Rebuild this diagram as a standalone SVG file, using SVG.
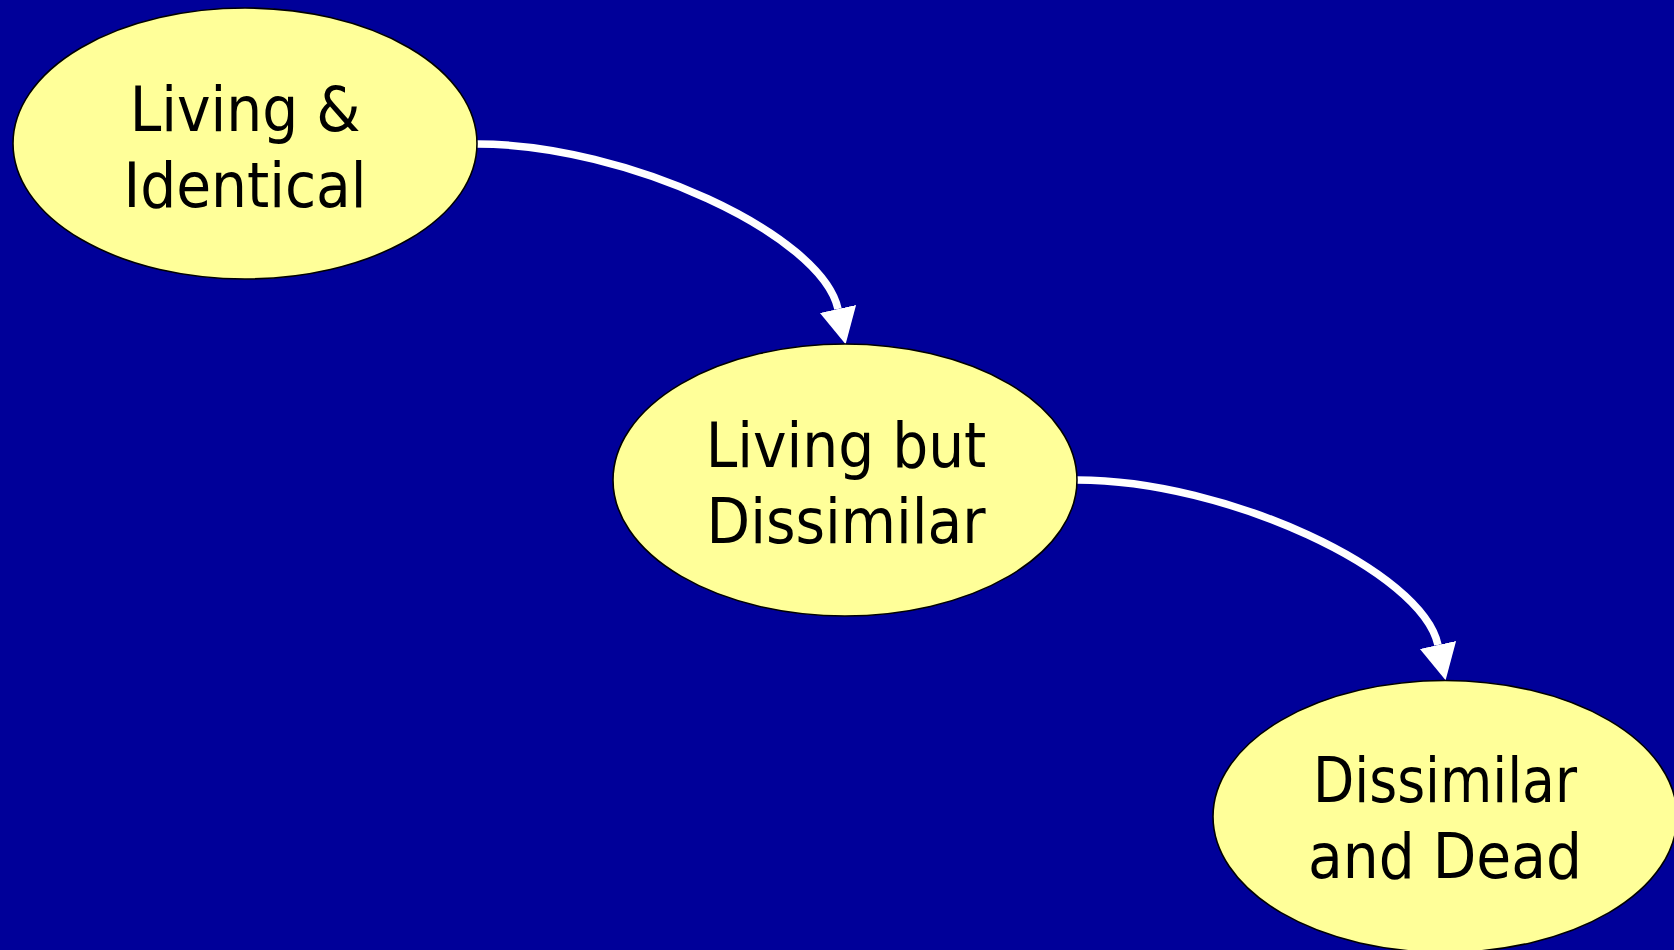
<svg xmlns="http://www.w3.org/2000/svg" width="1674" height="950" viewBox="0 0 1674 950">
  <style>
    .node ellipse { fill: #FFFF99; stroke: #000000; stroke-width: 1.6; }
    .node text { font-family: "DejaVu Sans Condensed", "DejaVu Sans", sans-serif; font-stretch: condensed; font-size: 63px; fill: #000000; text-anchor: middle; }
    .edge { fill: none; stroke: #FFFFFF; stroke-width: 7.5; marker-end: url(#arrow); }
  </style>
  <defs>
    <marker id="arrow" markerUnits="userSpaceOnUse" markerWidth="42" markerHeight="42" viewBox="0 -21 42 42" refX="0" refY="0" orient="auto">
      <polygon points="0,-18.5 36,0 0,18.5" fill="#FFFFFF"/>
    </marker>
  </defs>

  <rect x="0" y="0" width="1674" height="950" fill="#000099"/>

  <g id="connectors">
    <path class="edge" d="M477,144 C627,144 822,235 838,309"/>
    <path class="edge" d="M1077,480 C1227,480 1422,571 1438,645"/>
  </g>

  <g id="node-living-identical" class="node">
    <ellipse cx="245" cy="143.5" rx="232" ry="135.5"/>
    <text x="245" y="131">Living &amp;</text>
    <text x="245" y="207">Identical</text>
  </g>

  <g id="node-living-dissimilar" class="node">
    <ellipse cx="845" cy="480" rx="232" ry="136"/>
    <text x="846" y="467">Living but</text>
    <text x="846" y="543">Dissimilar</text>
  </g>

  <g id="node-dissimilar-dead" class="node">
    <ellipse cx="1445" cy="816.5" rx="232" ry="136"/>
    <text x="1445" y="802" textLength="264" lengthAdjust="spacingAndGlyphs">Dissimilar</text>
    <text x="1445" y="878">and Dead</text>
  </g>
</svg>
